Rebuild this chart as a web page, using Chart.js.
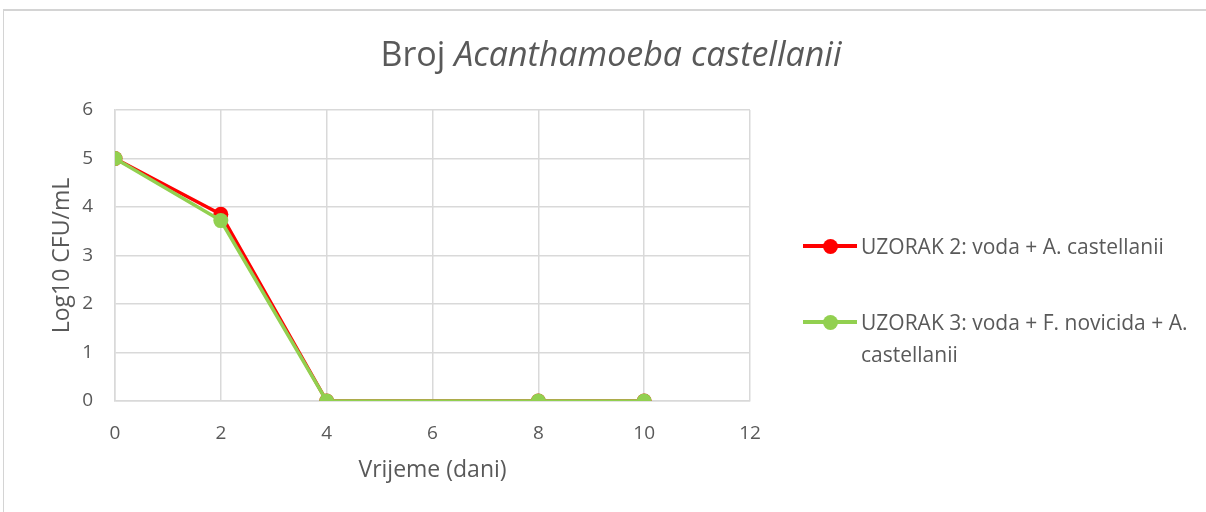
<!DOCTYPE html>
<html>
<head>
<meta charset="utf-8">
<script src="https://cdn.jsdelivr.net/npm/chart.js@4.4.1/dist/chart.umd.min.js"></script>
<style>
  html, body { margin: 0; padding: 0; background: #fff; overflow: hidden; }
  #wrap { position: relative; width: 1206px; height: 512px; overflow: hidden; background: #fff; }
  #frame { position: absolute; left: 3px; top: 9px; width: 1250px; height: 560px; border-left: 1px solid #d4d4d4; border-top: 2px solid #d4d4d4; }
  #c { position: absolute; left: 0; top: 0; }
  #title { position: absolute; left: 0; width: 1222px; top: 33px; line-height: 40px; text-align: center; font-family: "Open Sans", sans-serif; font-size: 34px; color: #595959; white-space: nowrap; }
  .leg { position: absolute; font-family: "Open Sans", sans-serif; font-size: 21px; color: #595959; line-height: 32px; }
  .sw { position: absolute; width: 54px; height: 4px; }
  .dot { position: absolute; width: 15px; height: 15px; border-radius: 50%; }
</style>
</head>
<body>
<div id="wrap">
  <div id="frame"></div>
  <canvas id="c" width="1206" height="512"></canvas>
  <div id="title">Broj <i>Acanthamoeba castellanii</i></div>
  <div id="legend"></div>
</div>
<script>
const days = [0, 2, 4, 8, 10];
const uzorak2 = [5, 3.85, 0, 0, 0];
const uzorak3 = [5, 3.72, 0, 0, 0];
const xTicks = [0, 2, 4, 6, 8, 10, 12];
const yTicks = [0, 1, 2, 3, 4, 5, 6];
const seriesNames = ["UZORAK 2: voda + A. castellanii", "UZORAK 3: voda + F. novicida + A. castellanii"];
const seriesColors = ["#FF0000", "#92D050"];

const toPts = (xs, ys) => xs.map((x, i) => ({ x: x, y: ys[i] }));
const gridCol = "#d9d9d9";
const tickCol = "#595959";
const fam = "'Open Sans', sans-serif";

const chart = new Chart(document.getElementById("c"), {
  type: "line",
  data: {
    datasets: [
      { label: seriesNames[0], data: toPts(days, uzorak2), borderColor: seriesColors[0], backgroundColor: seriesColors[0],
        borderWidth: 3.5, pointRadius: 7.5, pointHoverRadius: 7.5, pointBorderWidth: 0, order: 1, tension: 0 },
      { label: seriesNames[1], data: toPts(days, uzorak3), borderColor: seriesColors[1], backgroundColor: seriesColors[1],
        borderWidth: 3.5, pointRadius: 7.5, pointHoverRadius: 7.5, pointBorderWidth: 0, order: 0, tension: 0 }
    ]
  },
  options: {
    responsive: false,
    animation: false,
    layout: { padding: { left: 49, top: 110, right: 456, bottom: 28 } },
    plugins: { legend: { display: false }, tooltip: { enabled: false }, title: { display: false } },
    scales: {
      x: {
        type: "linear", min: 0, max: 12,
        afterBuildTicks: s => { s.ticks = xTicks.map(v => ({ value: v })); },
        afterFit: s => { s.height = 83; },
        ticks: { color: tickCol, font: { family: fam, size: 19 }, padding: 21 },
        grid: { color: gridCol, lineWidth: 1.5, drawTicks: false },
        border: { color: gridCol, width: 1.5 },
        title: { display: true, text: "Vrijeme (dani)", color: tickCol, font: { family: fam, size: 23 }, padding: { top: 0, bottom: 0 } }
      },
      y: {
        type: "linear", min: 0, max: 6,
        afterBuildTicks: s => { s.ticks = yTicks.map(v => ({ value: v })); },
        afterFit: s => { s.width = 66; },
        ticks: { color: tickCol, font: { family: fam, size: 19 }, padding: 22 },
        grid: { color: gridCol, lineWidth: 1.5, drawTicks: false },
        border: { color: gridCol, width: 1.5 },
        title: { display: true, text: "Log10 CFU/mL", color: tickCol, font: { family: fam, size: 23 }, padding: { top: 0, bottom: 0 } }
      }
    }
  }
});

// HTML legend
const leg = document.getElementById("legend");
const legTops = [246, 322];
seriesNames.forEach((name, i) => {
  const sw = document.createElement("div");
  sw.className = "sw"; sw.style.background = seriesColors[i];
  sw.style.left = "803px"; sw.style.top = (legTops[i] - 2) + "px";
  const dot = document.createElement("div");
  dot.className = "dot"; dot.style.background = seriesColors[i];
  dot.style.left = "823px"; dot.style.top = (legTops[i] - 7.5) + "px";
  const t = document.createElement("div");
  t.className = "leg"; t.style.left = "861px"; t.style.top = (legTops[i] - 16) + "px";
  t.style.width = "340px";
  t.textContent = name;
  leg.appendChild(sw); leg.appendChild(dot); leg.appendChild(t);
});
</script>
</body>
</html>
